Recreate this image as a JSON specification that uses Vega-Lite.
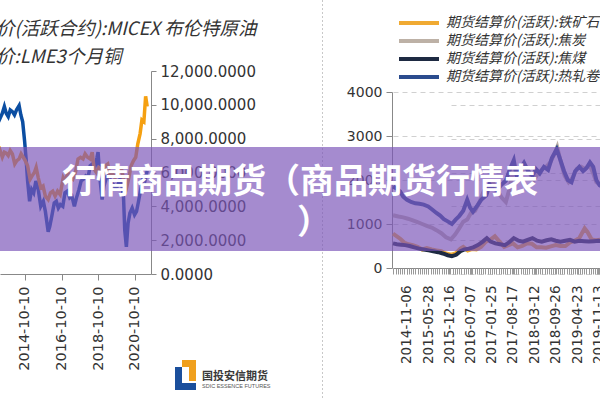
{
  "$schema": "https://vega.github.io/schema/vega-lite/v6.json",
  "width": 600,
  "height": 400,
  "autosize": {"type": "none"},
  "padding": 0,
  "background": "white",
  "config": {"view": {"stroke": null}, "font": "DejaVu Sans"},
  "datasets": {
    "left": [
      {"d":"2013-01-15","s":"brent","v":9600},{"d":"2013-03-01","s":"brent","v":9300},{"d":"2013-04-15","s":"brent","v":8900},{"d":"2013-06-01","s":"brent","v":9200},{"d":"2013-07-15","s":"brent","v":9500},{"d":"2013-08-25","s":"brent","v":9900},{"d":"2013-10-01","s":"brent","v":9500},{"d":"2013-11-10","s":"brent","v":9300},{"d":"2013-12-20","s":"brent","v":9700},{"d":"2014-02-01","s":"brent","v":9600},{"d":"2014-03-15","s":"brent","v":9400},{"d":"2014-04-25","s":"brent","v":9700},{"d":"2014-06-15","s":"brent","v":9950},{"d":"2014-07-20","s":"brent","v":9400},{"d":"2014-08-25","s":"brent","v":9000},{"d":"2014-10-01","s":"brent","v":7900},{"d":"2014-11-01","s":"brent","v":6800},{"d":"2014-12-01","s":"brent","v":5500},{"d":"2015-01-10","s":"brent","v":4300},{"d":"2015-02-20","s":"brent","v":5000},{"d":"2015-04-01","s":"brent","v":4800},{"d":"2015-05-15","s":"brent","v":5500},{"d":"2015-07-01","s":"brent","v":5000},{"d":"2015-08-20","s":"brent","v":4000},{"d":"2015-10-10","s":"brent","v":4300},{"d":"2015-11-20","s":"brent","v":3700},{"d":"2016-01-15","s":"brent","v":2500},{"d":"2016-02-15","s":"brent","v":2800},{"d":"2016-04-01","s":"brent","v":3500},{"d":"2016-05-15","s":"brent","v":4200},{"d":"2016-06-25","s":"brent","v":4300},{"d":"2016-08-05","s":"brent","v":3900},{"d":"2016-09-15","s":"brent","v":4100},{"d":"2016-11-01","s":"brent","v":4000},{"d":"2016-12-15","s":"brent","v":4800},{"d":"2017-02-01","s":"brent","v":4900},{"d":"2017-03-20","s":"brent","v":4500},{"d":"2017-05-01","s":"brent","v":4600},{"d":"2017-06-20","s":"brent","v":4000},{"d":"2017-08-01","s":"brent","v":4500},{"d":"2017-09-20","s":"brent","v":5000},{"d":"2017-11-01","s":"brent","v":5500},{"d":"2017-12-15","s":"brent","v":5600},{"d":"2018-02-01","s":"brent","v":5800},{"d":"2018-03-20","s":"brent","v":5700},{"d":"2018-05-01","s":"brent","v":6400},{"d":"2018-06-15","s":"brent","v":6500},{"d":"2018-08-01","s":"brent","v":6300},{"d":"2018-09-15","s":"brent","v":6900},{"d":"2018-10-05","s":"brent","v":7200},{"d":"2018-11-10","s":"brent","v":5700},{"d":"2018-12-25","s":"brent","v":4400},{"d":"2019-02-01","s":"brent","v":5200},{"d":"2019-03-20","s":"brent","v":5700},{"d":"2019-05-01","s":"brent","v":6000},{"d":"2019-06-15","s":"brent","v":5400},{"d":"2019-08-01","s":"brent","v":5300},{"d":"2019-09-20","s":"brent","v":5100},{"d":"2019-11-01","s":"brent","v":5200},{"d":"2019-12-25","s":"brent","v":5700},{"d":"2020-01-20","s":"brent","v":5300},{"d":"2020-02-25","s":"brent","v":4500},{"d":"2020-03-20","s":"brent","v":2600},{"d":"2020-04-21","s":"brent","v":1600},{"d":"2020-05-25","s":"brent","v":3000},{"d":"2020-07-01","s":"brent","v":3600},{"d":"2020-08-15","s":"brent","v":3900},{"d":"2020-10-01","s":"brent","v":3500},{"d":"2020-11-10","s":"brent","v":3700},{"d":"2020-12-20","s":"brent","v":4300},{"d":"2021-02-01","s":"brent","v":5000},{"d":"2021-03-15","s":"brent","v":5600},{"d":"2021-04-25","s":"brent","v":5500},{"d":"2021-06-10","s":"brent","v":6100},
      {"d":"2013-01-15","s":"copper","v":8000},{"d":"2013-03-01","s":"copper","v":7700},{"d":"2013-04-15","s":"copper","v":7000},{"d":"2013-06-01","s":"copper","v":7300},{"d":"2013-07-15","s":"copper","v":6900},{"d":"2013-08-25","s":"copper","v":7200},{"d":"2013-10-01","s":"copper","v":7150},{"d":"2013-11-10","s":"copper","v":7000},{"d":"2013-12-20","s":"copper","v":7300},{"d":"2014-02-01","s":"copper","v":7100},{"d":"2014-03-20","s":"copper","v":6500},{"d":"2014-05-01","s":"copper","v":6700},{"d":"2014-06-15","s":"copper","v":6800},{"d":"2014-07-25","s":"copper","v":7100},{"d":"2014-09-05","s":"copper","v":6900},{"d":"2014-10-15","s":"copper","v":6700},{"d":"2014-12-01","s":"copper","v":6400},{"d":"2015-01-20","s":"copper","v":5600},{"d":"2015-03-01","s":"copper","v":5800},{"d":"2015-04-15","s":"copper","v":6000},{"d":"2015-05-20","s":"copper","v":6300},{"d":"2015-07-01","s":"copper","v":5700},{"d":"2015-08-20","s":"copper","v":5100},{"d":"2015-10-05","s":"copper","v":5200},{"d":"2015-11-20","s":"copper","v":4600},{"d":"2016-01-15","s":"copper","v":4400},{"d":"2016-03-01","s":"copper","v":4800},{"d":"2016-04-15","s":"copper","v":4900},{"d":"2016-06-01","s":"copper","v":4600},{"d":"2016-07-20","s":"copper","v":4900},{"d":"2016-09-10","s":"copper","v":4700},{"d":"2016-11-10","s":"copper","v":5700},{"d":"2016-12-20","s":"copper","v":5500},{"d":"2017-02-10","s":"copper","v":6000},{"d":"2017-04-01","s":"copper","v":5700},{"d":"2017-05-20","s":"copper","v":5600},{"d":"2017-07-10","s":"copper","v":6000},{"d":"2017-09-01","s":"copper","v":6800},{"d":"2017-10-20","s":"copper","v":6900},{"d":"2017-12-10","s":"copper","v":6800},{"d":"2018-01-20","s":"copper","v":7100},{"d":"2018-03-10","s":"copper","v":6900},{"d":"2018-05-01","s":"copper","v":6800},{"d":"2018-06-10","s":"copper","v":7200},{"d":"2018-07-20","s":"copper","v":6200},{"d":"2018-09-01","s":"copper","v":6000},{"d":"2018-10-20","s":"copper","v":6300},{"d":"2018-12-01","s":"copper","v":6200},{"d":"2019-01-10","s":"copper","v":5900},{"d":"2019-02-25","s":"copper","v":6400},{"d":"2019-04-15","s":"copper","v":6500},{"d":"2019-06-01","s":"copper","v":5800},{"d":"2019-07-20","s":"copper","v":5950},{"d":"2019-09-05","s":"copper","v":5700},{"d":"2019-10-20","s":"copper","v":5800},{"d":"2019-12-10","s":"copper","v":6100},{"d":"2020-01-15","s":"copper","v":6200},{"d":"2020-02-20","s":"copper","v":5700},{"d":"2020-03-20","s":"copper","v":4700},{"d":"2020-04-25","s":"copper","v":5100},{"d":"2020-06-10","s":"copper","v":5700},{"d":"2020-07-25","s":"copper","v":6400},{"d":"2020-09-10","s":"copper","v":6700},{"d":"2020-10-25","s":"copper","v":6900},{"d":"2020-12-05","s":"copper","v":7700},{"d":"2021-01-20","s":"copper","v":8300},{"d":"2021-02-25","s":"copper","v":9100},{"d":"2021-04-05","s":"copper","v":9000},{"d":"2021-05-10","s":"copper","v":10500},{"d":"2021-06-10","s":"copper","v":9900}
    ],
    "right": [
      {"d":"2014-06-25","s":"ore","v":780},{"d":"2014-08-01","s":"ore","v":720},{"d":"2014-09-05","s":"ore","v":660},{"d":"2014-10-10","s":"ore","v":580},{"d":"2014-11-20","s":"ore","v":540},{"d":"2015-01-01","s":"ore","v":520},{"d":"2015-02-15","s":"ore","v":480},{"d":"2015-04-01","s":"ore","v":420},{"d":"2015-05-15","s":"ore","v":450},{"d":"2015-07-01","s":"ore","v":420},{"d":"2015-08-15","s":"ore","v":400},{"d":"2015-10-01","s":"ore","v":380},{"d":"2015-11-15","s":"ore","v":330},{"d":"2016-01-01","s":"ore","v":300},{"d":"2016-02-15","s":"ore","v":330},{"d":"2016-04-01","s":"ore","v":440},{"d":"2016-04-28","s":"ore","v":480},{"d":"2016-06-10","s":"ore","v":400},{"d":"2016-07-20","s":"ore","v":430},{"d":"2016-09-01","s":"ore","v":420},{"d":"2016-10-15","s":"ore","v":480},{"d":"2016-12-01","s":"ore","v":600},{"d":"2017-01-10","s":"ore","v":640},{"d":"2017-02-25","s":"ore","v":720},{"d":"2017-04-10","s":"ore","v":600},{"d":"2017-05-25","s":"ore","v":480},{"d":"2017-07-05","s":"ore","v":520},{"d":"2017-08-17","s":"ore","v":560},{"d":"2017-10-01","s":"ore","v":470},{"d":"2017-11-15","s":"ore","v":500},{"d":"2018-01-01","s":"ore","v":560},{"d":"2018-02-15","s":"ore","v":550},{"d":"2018-04-01","s":"ore","v":470},{"d":"2018-05-15","s":"ore","v":470},{"d":"2018-07-01","s":"ore","v":460},{"d":"2018-08-15","s":"ore","v":490},{"d":"2018-10-01","s":"ore","v":520},{"d":"2018-11-15","s":"ore","v":500},{"d":"2019-01-01","s":"ore","v":500},{"d":"2019-02-15","s":"ore","v":580},{"d":"2019-04-01","s":"ore","v":620},{"d":"2019-05-15","s":"ore","v":680},{"d":"2019-07-05","s":"ore","v":900},{"d":"2019-08-01","s":"ore","v":820},{"d":"2019-09-10","s":"ore","v":650},{"d":"2019-10-20","s":"ore","v":630},{"d":"2019-12-01","s":"ore","v":640},
      {"d":"2014-06-25","s":"coke","v":1200},{"d":"2014-08-15","s":"coke","v":1170},{"d":"2014-10-01","s":"coke","v":1150},{"d":"2014-11-15","s":"coke","v":1120},{"d":"2015-01-01","s":"coke","v":1080},{"d":"2015-02-15","s":"coke","v":1040},{"d":"2015-04-01","s":"coke","v":1000},{"d":"2015-05-15","s":"coke","v":960},{"d":"2015-07-01","s":"coke","v":920},{"d":"2015-08-15","s":"coke","v":860},{"d":"2015-10-01","s":"coke","v":790},{"d":"2015-11-15","s":"coke","v":700},{"d":"2016-01-01","s":"coke","v":650},{"d":"2016-02-10","s":"coke","v":760},{"d":"2016-03-20","s":"coke","v":900},{"d":"2016-04-28","s":"coke","v":1050},{"d":"2016-06-05","s":"coke","v":1100},{"d":"2016-07-10","s":"coke","v":1250},{"d":"2016-08-20","s":"coke","v":1300},{"d":"2016-10-01","s":"coke","v":1500},{"d":"2016-11-10","s":"coke","v":1750},{"d":"2016-12-20","s":"coke","v":1850},{"d":"2017-02-01","s":"coke","v":1950},{"d":"2017-03-15","s":"coke","v":1800},{"d":"2017-05-01","s":"coke","v":1600},{"d":"2017-06-10","s":"coke","v":1500},{"d":"2017-07-15","s":"coke","v":1800},{"d":"2017-08-25","s":"coke","v":2300},{"d":"2017-10-01","s":"coke","v":2150},{"d":"2017-11-05","s":"coke","v":2200},{"d":"2017-12-15","s":"coke","v":2300},{"d":"2018-01-25","s":"coke","v":2150},{"d":"2018-03-05","s":"coke","v":2000},{"d":"2018-04-15","s":"coke","v":2150},{"d":"2018-05-25","s":"coke","v":2250},{"d":"2018-07-01","s":"coke","v":2300},{"d":"2018-08-10","s":"coke","v":2400},{"d":"2018-09-20","s":"coke","v":2600},{"d":"2018-10-15","s":"coke","v":2750},{"d":"2018-11-20","s":"coke","v":2400},{"d":"2018-12-25","s":"coke","v":2100},{"d":"2019-02-01","s":"coke","v":1950},{"d":"2019-03-10","s":"coke","v":2050},{"d":"2019-04-20","s":"coke","v":2250},{"d":"2019-06-01","s":"coke","v":2300},{"d":"2019-07-10","s":"coke","v":2250},{"d":"2019-08-20","s":"coke","v":2350},{"d":"2019-09-25","s":"coke","v":2150},{"d":"2019-10-25","s":"coke","v":1950},{"d":"2019-12-01","s":"coke","v":1900},
      {"d":"2014-06-25","s":"coal","v":560},{"d":"2014-08-01","s":"coal","v":540},{"d":"2014-09-10","s":"coal","v":530},{"d":"2014-10-20","s":"coal","v":520},{"d":"2014-12-01","s":"coal","v":500},{"d":"2015-01-15","s":"coal","v":470},{"d":"2015-03-01","s":"coal","v":440},{"d":"2015-04-15","s":"coal","v":420},{"d":"2015-06-01","s":"coal","v":400},{"d":"2015-07-15","s":"coal","v":380},{"d":"2015-09-01","s":"coal","v":360},{"d":"2015-10-15","s":"coal","v":330},{"d":"2015-12-01","s":"coal","v":290},{"d":"2016-01-10","s":"coal","v":270},{"d":"2016-02-20","s":"coal","v":300},{"d":"2016-04-01","s":"coal","v":380},{"d":"2016-05-10","s":"coal","v":420},{"d":"2016-06-20","s":"coal","v":440},{"d":"2016-08-01","s":"coal","v":470},{"d":"2016-09-15","s":"coal","v":520},{"d":"2016-11-01","s":"coal","v":600},{"d":"2016-12-10","s":"coal","v":680},{"d":"2017-01-15","s":"coal","v":600},{"d":"2017-03-01","s":"coal","v":560},{"d":"2017-04-15","s":"coal","v":540},{"d":"2017-06-01","s":"coal","v":520},{"d":"2017-07-15","s":"coal","v":590},{"d":"2017-08-25","s":"coal","v":680},{"d":"2017-10-10","s":"coal","v":620},{"d":"2017-11-20","s":"coal","v":600},{"d":"2018-01-05","s":"coal","v":640},{"d":"2018-02-20","s":"coal","v":680},{"d":"2018-04-05","s":"coal","v":620},{"d":"2018-05-20","s":"coal","v":600},{"d":"2018-07-05","s":"coal","v":630},{"d":"2018-08-20","s":"coal","v":650},{"d":"2018-10-01","s":"coal","v":620},{"d":"2018-11-15","s":"coal","v":600},{"d":"2019-01-01","s":"coal","v":620},{"d":"2019-02-15","s":"coal","v":640},{"d":"2019-04-01","s":"coal","v":600},{"d":"2019-05-15","s":"coal","v":620},{"d":"2019-07-01","s":"coal","v":610},{"d":"2019-08-15","s":"coal","v":600},{"d":"2019-10-01","s":"coal","v":610},{"d":"2019-11-15","s":"coal","v":620},{"d":"2019-12-15","s":"coal","v":610},
      {"d":"2014-06-25","s":"hrc","v":1850},{"d":"2014-08-01","s":"hrc","v":1800},{"d":"2014-09-01","s":"hrc","v":1740},{"d":"2014-10-01","s":"hrc","v":1620},{"d":"2014-11-06","s":"hrc","v":1550},{"d":"2014-12-15","s":"hrc","v":1500},{"d":"2015-01-25","s":"hrc","v":1470},{"d":"2015-03-05","s":"hrc","v":1460},{"d":"2015-04-15","s":"hrc","v":1440},{"d":"2015-05-28","s":"hrc","v":1400},{"d":"2015-07-05","s":"hrc","v":1330},{"d":"2015-08-15","s":"hrc","v":1250},{"d":"2015-09-20","s":"hrc","v":1190},{"d":"2015-10-25","s":"hrc","v":1110},{"d":"2015-12-01","s":"hrc","v":1060},{"d":"2016-01-10","s":"hrc","v":1000},{"d":"2016-02-15","s":"hrc","v":1100},{"d":"2016-03-20","s":"hrc","v":1180},{"d":"2016-04-28","s":"hrc","v":1300},{"d":"2016-06-05","s":"hrc","v":1550},{"d":"2016-07-01","s":"hrc","v":1380},{"d":"2016-07-30","s":"hrc","v":1280},{"d":"2016-09-13","s":"hrc","v":1430},{"d":"2016-10-20","s":"hrc","v":1560},{"d":"2016-12-05","s":"hrc","v":1650},{"d":"2017-01-05","s":"hrc","v":1900},{"d":"2017-02-10","s":"hrc","v":1800},{"d":"2017-03-20","s":"hrc","v":1770},{"d":"2017-05-01","s":"hrc","v":1900},{"d":"2017-06-10","s":"hrc","v":1980},{"d":"2017-07-20","s":"hrc","v":2250},{"d":"2017-08-25","s":"hrc","v":2450},{"d":"2017-09-20","s":"hrc","v":2100},{"d":"2017-10-25","s":"hrc","v":2250},{"d":"2017-12-01","s":"hrc","v":2390},{"d":"2018-01-10","s":"hrc","v":2200},{"d":"2018-02-20","s":"hrc","v":2100},{"d":"2018-03-25","s":"hrc","v":2250},{"d":"2018-05-01","s":"hrc","v":2150},{"d":"2018-06-10","s":"hrc","v":2300},{"d":"2018-07-20","s":"hrc","v":2230},{"d":"2018-08-25","s":"hrc","v":2500},{"d":"2018-10-10","s":"hrc","v":2700},{"d":"2018-11-15","s":"hrc","v":2450},{"d":"2018-12-20","s":"hrc","v":2200},{"d":"2019-01-25","s":"hrc","v":2000},{"d":"2019-03-01","s":"hrc","v":1950},{"d":"2019-04-05","s":"hrc","v":2200},{"d":"2019-05-15","s":"hrc","v":2300},{"d":"2019-06-20","s":"hrc","v":2200},{"d":"2019-07-25","s":"hrc","v":2280},{"d":"2019-08-25","s":"hrc","v":2400},{"d":"2019-09-25","s":"hrc","v":2300},{"d":"2019-10-25","s":"hrc","v":2000},{"d":"2019-11-25","s":"hrc","v":1880},{"d":"2019-12-20","s":"hrc","v":1850}
    ]
  },
  "layer": [
    {
      "data": {"name": "left"},
      "mark": {"type": "line", "strokeWidth": 3.5, "clip": true},
      "encoding": {
        "x": {
          "field": "d", "type": "temporal",
          "scale": {"domain": [{"year": 2013, "month": 5, "date": 30, "utc": true}, {"year": 2021, "month": 8, "date": 25, "utc": true}], "range": [0, 151], "nice": false},
          "axis": {"orient": "bottom", "offset": -126, "title": null, "grid": false,
            "values": [{"year": 2014, "month": 10, "date": 10, "utc": true}, {"year": 2016, "month": 10, "date": 10, "utc": true}, {"year": 2018, "month": 10, "date": 10, "utc": true}, {"year": 2020, "month": 10, "date": 10, "utc": true}],
            "format": "%Y-%m-%d", "labelAngle": -90, "labelFont": "DejaVu Sans", "labelFontSize": 14.5, "labelColor": "#333",
            "labelFlush": false, "labelOverlap": false, "labelPadding": 6, "tickSize": 6, "tickColor": "#888", "domainColor": "#888"}
        },
        "y": {
          "field": "v", "type": "quantitative",
          "scale": {"domain": [0, 12000], "range": [274, 71], "nice": false},
          "axis": {"orient": "right", "offset": -449, "title": null, "values": [0, 2000, 4000, 6000, 8000, 10000, 12000], "format": ",.4f",
            "labelFont": "DejaVu Sans", "labelFontSize": 15, "labelColor": "#333", "labelPadding": 4, "tickSize": 5, "tickColor": "#888", "domainColor": "#888",
            "grid": true, "gridColor": "#d0d0d0", "gridDash": [5, 4]}
        },
        "color": {
          "field": "s", "type": "nominal",
          "scale": {"domain": ["brent", "copper"], "range": ["#0b4ea2", "#f5a011"]},
          "legend": {"orient": "none", "legendX": -106, "legendY": 17, "title": null, "padding": 0,
            "labelExpr": "datum.label === 'brent' ? '期货结算价(活跃合约):MICEX 布伦特原油' : '期货收盘价:LME3个月铜'",
            "labelFont": "Noto Sans CJK SC", "labelFontSize": 18.5, "labelFontStyle": "italic", "labelColor": "#333", "labelLimit": 0,
            "symbolType": "stroke", "symbolStrokeWidth": 4, "symbolSize": 400, "rowPadding": 6}
        }
      }
    },
    {
      "data": {"name": "right"},
      "layer": [
        {
          "mark": {"type": "line", "strokeWidth": 4, "clip": true},
          "encoding": {
            "x": {
              "field": "d", "type": "temporal",
              "scale": {"domain": [{"year": 2014, "month": 6, "date": 25, "utc": true}, {"year": 2019, "month": 11, "date": 29, "utc": true}], "range": [393, 600], "nice": false},
              "axis": {"orient": "bottom", "offset": -132, "title": null, "grid": false,
                "values": [{"year": 2014, "month": 11, "date": 6, "utc": true}, {"year": 2015, "month": 5, "date": 28, "utc": true}, {"year": 2015, "month": 12, "date": 16, "utc": true}, {"year": 2016, "month": 7, "date": 7, "utc": true}, {"year": 2017, "month": 1, "date": 25, "utc": true}, {"year": 2017, "month": 8, "date": 17, "utc": true}, {"year": 2018, "month": 3, "date": 12, "utc": true}, {"year": 2018, "month": 9, "date": 26, "utc": true}, {"year": 2019, "month": 4, "date": 23, "utc": true}, {"year": 2019, "month": 11, "date": 13, "utc": true}],
                "format": "%Y-%m-%d", "labelAngle": -90, "labelFont": "DejaVu Sans", "labelFontSize": 13.5, "labelColor": "#333",
                "labelFlush": false, "labelOverlap": false, "labelPadding": 11, "tickSize": 6, "tickColor": "#999", "domainColor": "#888"}
            },
            "y": {
              "field": "v", "type": "quantitative",
              "scale": {"domain": [0, 4000], "range": [268, 92], "nice": false},
              "axis": {"orient": "left", "offset": -392, "title": null, "values": [0, 1000, 2000, 3000, 4000], "format": "d",
                "labelFont": "DejaVu Sans", "labelFontSize": 14, "labelColor": "#333", "labelPadding": 4, "tickSize": 6, "tickColor": "#888", "domainColor": "#888",
                "grid": true, "gridColor": "#d0d0d0", "gridDash": [5, 4]}
            },
            "color": {
              "field": "s", "type": "nominal",
              "scale": {"domain": ["ore", "coke", "coal", "hrc"], "range": ["#f0aa32", "#bdb1a6", "#1e2a42", "#2b4c8e"]},
              "legend": {"orient": "none", "legendX": 410, "legendY": 14, "title": null, "padding": 0,
                "labelExpr": "{'ore': '期货结算价(活跃):铁矿石', 'coke': '期货结算价(活跃):焦炭', 'coal': '期货结算价(活跃):焦煤', 'hrc': '期货结算价(活跃):热轧卷板'}[datum.label]",
                "labelFont": "Noto Sans CJK SC", "labelFontSize": 14, "labelFontStyle": "italic", "labelColor": "#333", "labelLimit": 0, "labelOffset": 18,
                "symbolType": "M-2.857,0H2.857", "symbolStrokeWidth": 4, "symbolSize": 196, "rowPadding": 1}
            }
          }
        },
        {
          "data": {"values": [{}]},
          "mark": {"type": "rule", "opacity": 0},
          "encoding": {
            "x": {"datum": {"year": 2016, "month": 1, "date": 1, "utc": true}, "type": "temporal",
              "axis": {"orient": "bottom", "offset": -132, "title": null, "grid": false, "labels": false, "domain": false,
                "tickCount": {"interval": "week", "step": 3}, "tickSize": 6, "tickColor": "#999"}}
          }
        }
      ],
      "resolve": {"axis": {"x": "independent"}}
    },
    {
      "data": {"values": [{}]},
      "layer": [
        {
          "mark": {"type": "rule", "color": "#c8c8c8", "strokeDash": [2, 2], "strokeWidth": 1},
          "encoding": {
            "x": {"datum": 0.5375, "type": "quantitative", "scale": {"domain": [0, 1], "range": [0, 600], "nice": false, "zero": false}, "axis": null},
            "y": {"datum": 0, "type": "quantitative", "scale": {"domain": [0, 1], "range": [0, 400], "nice": false, "zero": false}, "axis": null},
            "y2": {"datum": 1}
          }
        },
        {
          "mark": {"type": "rect", "color": "#7b54b8", "opacity": 0.68},
          "encoding": {
            "x": {"datum": 0, "type": "quantitative"}, "x2": {"datum": 1},
            "y": {"datum": 0.3675, "type": "quantitative"}, "y2": {"datum": 0.6275}
          }
        },
        {
          "mark": {"type": "text", "text": "行情商品期货（商品期货行情表", "font": "Noto Sans CJK SC", "fontWeight": "bold", "fontSize": 34, "color": "white", "align": "center", "baseline": "middle"},
          "encoding": {"x": {"datum": 0.5, "type": "quantitative"}, "y": {"datum": 0.457, "type": "quantitative"}}
        },
        {
          "mark": {"type": "text", "text": "）", "font": "Noto Sans CJK SC", "fontWeight": "bold", "fontSize": 34, "color": "white", "align": "center", "baseline": "middle", "dx": 14},
          "encoding": {"x": {"datum": 0.5, "type": "quantitative"}, "y": {"datum": 0.56, "type": "quantitative"}}
        },
        {
          "mark": {"type": "rect", "color": "#f0a01e"},
          "encoding": {"x": {"datum": 0.3033, "type": "quantitative"}, "x2": {"datum": 0.3267}, "y": {"datum": 0.9, "type": "quantitative"}, "y2": {"datum": 0.9175}}
        },
        {
          "mark": {"type": "rect", "color": "#f0a01e"},
          "encoding": {"x": {"datum": 0.315, "type": "quantitative"}, "x2": {"datum": 0.3267}, "y": {"datum": 0.9, "type": "quantitative"}, "y2": {"datum": 0.9525}}
        },
        {
          "mark": {"type": "rect", "color": "#1b4f9c"},
          "encoding": {"x": {"datum": 0.2917, "type": "quantitative"}, "x2": {"datum": 0.3033}, "y": {"datum": 0.9175, "type": "quantitative"}, "y2": {"datum": 0.975}}
        },
        {
          "mark": {"type": "rect", "color": "#1b4f9c"},
          "encoding": {"x": {"datum": 0.2917, "type": "quantitative"}, "x2": {"datum": 0.3267}, "y": {"datum": 0.9575, "type": "quantitative"}, "y2": {"datum": 0.975}}
        },
        {
          "mark": {"type": "text", "text": "国投安信期货", "font": "Noto Sans CJK SC", "fontWeight": "bold", "fontSize": 11, "color": "#3a3a3a", "align": "left", "baseline": "middle"},
          "encoding": {"x": {"datum": 0.3367, "type": "quantitative"}, "y": {"datum": 0.9425, "type": "quantitative"}}
        },
        {
          "mark": {"type": "text", "text": "SDIC ESSENCE FUTURES", "font": "Liberation Sans", "fontSize": 5.5, "color": "#555", "align": "left", "baseline": "middle"},
          "encoding": {"x": {"datum": 0.3367, "type": "quantitative"}, "y": {"datum": 0.965, "type": "quantitative"}}
        }
      ]
    }
  ],
  "resolve": {
    "scale": {"x": "independent", "y": "independent", "color": "independent"},
    "axis": {"x": "independent", "y": "independent"},
    "legend": {"color": "independent"}
  }
}
